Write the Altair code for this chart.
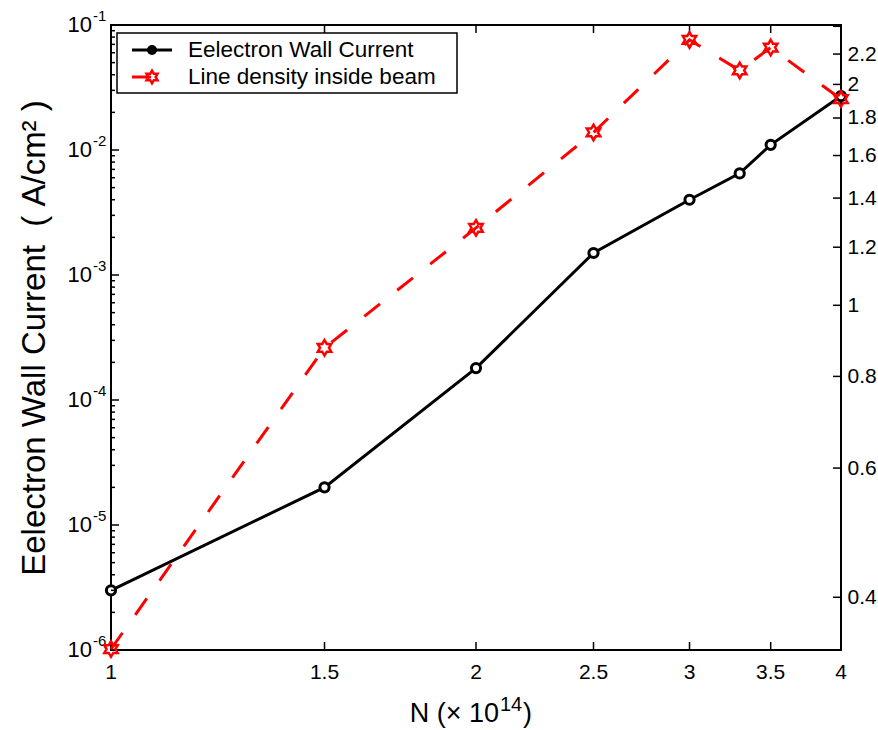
import math
import altair as alt
import pandas as pd

# ---------------- data ----------------
x_vals = [1, 1.5, 2, 2.5, 3, 3.3, 3.5, 4]
wall_current = [3.0e-6, 2.0e-5, 1.8e-4, 1.5e-3, 4.0e-3, 6.5e-3, 1.1e-2, 2.7e-2]
line_density = [0.34, 0.875, 1.275, 1.72, 2.30, 2.09, 2.245, 1.91]
series_names = ["Eelectron Wall Current", "Line density inside beam"]

x_ticks = [1, 1.5, 2, 2.5, 3, 3.5, 4]
x_tick_labels = ["1", "1.5", "2", "2.5", "3", "3.5", "4"]
left_decades = [1e-6, 1e-5, 1e-4, 1e-3, 1e-2, 1e-1]
left_exponents = ["-6", "-5", "-4", "-3", "-2", "-1"]
left_minor = [m * d for d in left_decades[:-1] for m in range(2, 10)]
right_ticks = [0.4, 0.6, 0.8, 1.0, 1.2, 1.4, 1.6, 1.8, 2.0, 2.2, 2.4]
right_labels = right_ticks[:-1]

x_domain = [1, 4]
left_domain = [1e-6, 1e-1]
right_domain = [0.339, 2.41]

x_title_parts = ["N (\u00d7 10", "14", ")"]
y_title = "Eelectron Wall Current\u00a0\u00a0(\u00a0A/cm²\u00a0)"

# ---------------- style ----------------
W, H = 730, 625
FONT = "Liberation Sans"

pts = []
for k in range(12):
    ang = math.radians(-90 + 30 * k)
    r = 1.0 if k % 2 == 0 else 1.0 / math.sqrt(3)
    pts.append(f"{r * math.cos(ang):.3f},{r * math.sin(ang):.3f}")
HEXAGRAM = "M" + "L".join(pts) + "Z"

def xsc():
    return alt.Scale(type="log", domain=x_domain, nice=False)

def lsc():
    return alt.Scale(type="log", domain=left_domain, nice=False)

def rsc():
    return alt.Scale(type="log", domain=right_domain, nice=False)

left_axis = alt.Axis(orient="left", labels=False, ticks=False, domain=False,
                     grid=False, title=y_title, titleFont=FONT, titleFontSize=33,
                     titleFontWeight="normal", titlePadding=60, titleColor="black")
right_axis = alt.Axis(orient="right", values=right_labels, format="~g", ticks=False,
                      domain=False, grid=False, title=None, labelFont=FONT,
                      labelFontSize=21, labelPadding=6, labelColor="black",
                      labelFlush=False, labelOverlap=False)

df = pd.DataFrame({"x": x_vals, "current": wall_current, "density": line_density})
df_xt = pd.DataFrame({"x": x_ticks, "lab": x_tick_labels})
df_lmaj = pd.DataFrame({"v": left_decades, "exp": left_exponents})
df_lmin = pd.DataFrame({"v": left_minor})
df_rt = pd.DataFrame({"v": right_ticks})
df_one = pd.DataFrame({"a": [0]})

TICK = dict(color="black", strokeWidth=1.5)

def X(field):
    return alt.X(field, type="quantitative", scale=xsc(), axis=None)

# ---------------- left (wall current) ----------------
black_line = alt.Chart(df).mark_line(color="black", strokeWidth=3).encode(
    x=X("x"),
    y=alt.Y("current:Q", scale=lsc(), axis=left_axis),
)
black_pts = alt.Chart(df).mark_point(shape="circle", filled=True, fill="white", stroke="black",
                                     strokeWidth=3, size=85, opacity=1).encode(
    x=X("x"),
    y=alt.Y("current:Q", scale=lsc(), axis=None),
)
bottom_ticks = alt.Chart(df_xt).mark_rule(**TICK).encode(
    x=X("x"), y=alt.value(H), y2=alt.value(H - 8))
top_ticks = alt.Chart(df_xt).mark_rule(**TICK).encode(
    x=X("x"), y=alt.value(0), y2=alt.value(8))
bottom_labels = alt.Chart(df_xt).mark_text(align="center", baseline="alphabetic", font=FONT,
                                           fontSize=21, color="black").encode(
    x=X("x"), y=alt.value(H + 29), text="lab:N")
left_major_ticks = alt.Chart(df_lmaj).mark_rule(**TICK).encode(
    y=alt.Y("v:Q", scale=lsc(), axis=None), x=alt.value(0), x2=alt.value(8))
left_minor_ticks = alt.Chart(df_lmin).mark_rule(**TICK).encode(
    y=alt.Y("v:Q", scale=lsc(), axis=None), x=alt.value(0), x2=alt.value(4))
left_base = alt.Chart(df_lmaj).mark_text(align="right", baseline="middle", font=FONT,
                                         fontSize=22, color="black").encode(
    y=alt.Y("v:Q", scale=lsc(), axis=None), x=alt.value(-19), text=alt.value("10"))
left_exp = alt.Chart(df_lmaj).mark_text(align="left", baseline="middle", font=FONT,
                                        fontSize=15, color="black", dy=-9).encode(
    y=alt.Y("v:Q", scale=lsc(), axis=None), x=alt.value(-18), text="exp:N")

# x-axis title (with raised exponent)
xt_main = alt.Chart(df_one).mark_text(align="right", baseline="alphabetic", font=FONT,
                                      fontSize=27, color="black").encode(
    x=alt.value(388), y=alt.value(H + 72), text=alt.value(x_title_parts[0]))
xt_sup = alt.Chart(df_one).mark_text(align="left", baseline="alphabetic", font=FONT,
                                     fontSize=20, color="black").encode(
    x=alt.value(389), y=alt.value(H + 61), text=alt.value(x_title_parts[1]))
xt_close = alt.Chart(df_one).mark_text(align="left", baseline="alphabetic", font=FONT,
                                       fontSize=27, color="black").encode(
    x=alt.value(412), y=alt.value(H + 72), text=alt.value(x_title_parts[2]))

# ---------------- right (line density) ----------------
red_line = alt.Chart(df).mark_line(color="red", strokeWidth=3, strokeDash=[20, 22]).encode(
    x=X("x"),
    y=alt.Y("density:Q", scale=rsc(), axis=right_axis),
)
red_pts = alt.Chart(df).mark_point(shape=HEXAGRAM, filled=False, stroke="red",
                                   strokeWidth=2.5, size=240, opacity=1).encode(
    x=X("x"),
    y=alt.Y("density:Q", scale=rsc(), axis=None),
)
right_tick_rules = alt.Chart(df_rt).mark_rule(**TICK).encode(
    y=alt.Y("v:Q", scale=rsc(), axis=None), x=alt.value(W), x2=alt.value(W - 8))

# ---------------- legend ----------------
leg_box = alt.Chart(df_one).mark_rect(fill="white", stroke="black", strokeWidth=1.5).encode(
    x=alt.value(6), x2=alt.value(346), y=alt.value(8), y2=alt.value(68))
leg_line1 = alt.Chart(df_one).mark_rule(color="black", strokeWidth=3).encode(
    x=alt.value(21), x2=alt.value(61), y=alt.value(25))
leg_pt1 = alt.Chart(df_one).mark_point(shape="circle", filled=True, color="black",
                                       size=100, opacity=1).encode(
    x=alt.value(41), y=alt.value(25))
leg_txt1 = alt.Chart(df_one).mark_text(align="left", baseline="middle", font=FONT,
                                       fontSize=22.5, color="black").encode(
    x=alt.value(77), y=alt.value(25), text=alt.value(series_names[0]))
leg_line2 = alt.Chart(df_one).mark_rule(color="red", strokeWidth=3).encode(
    x=alt.value(21), x2=alt.value(40), y=alt.value(52))
leg_pt2 = alt.Chart(df_one).mark_point(shape=HEXAGRAM, filled=False, stroke="red",
                                       strokeWidth=2.5, size=160, opacity=1).encode(
    x=alt.value(41), y=alt.value(52))
leg_txt2 = alt.Chart(df_one).mark_text(align="left", baseline="middle", font=FONT,
                                       fontSize=22.5, color="black").encode(
    x=alt.value(77), y=alt.value(52), text=alt.value(series_names[1]))

chart = (
    alt.layer(black_line, black_pts, bottom_ticks, top_ticks, bottom_labels,
              left_major_ticks, left_minor_ticks, left_base, left_exp,
              xt_main, xt_sup, xt_close,
              red_line, red_pts, right_tick_rules,
              leg_box, leg_line1, leg_pt1, leg_txt1, leg_line2, leg_pt2, leg_txt2)
    .resolve_scale(y="independent")
    .properties(width=W, height=H, autosize=alt.AutoSizeParams(type="none"),
                padding={"left": 111, "top": 25, "right": 37, "bottom": 80},
                background="white")
    .configure_view(stroke="black", strokeWidth=2)
    .configure_axis(labelFont=FONT, labelFontSize=21, labelColor="black",
                    titleFont=FONT, titleColor="black", titleFontWeight="normal")
)

chart.save("out.html", embed_options={"renderer": "svg", "actions": False})
